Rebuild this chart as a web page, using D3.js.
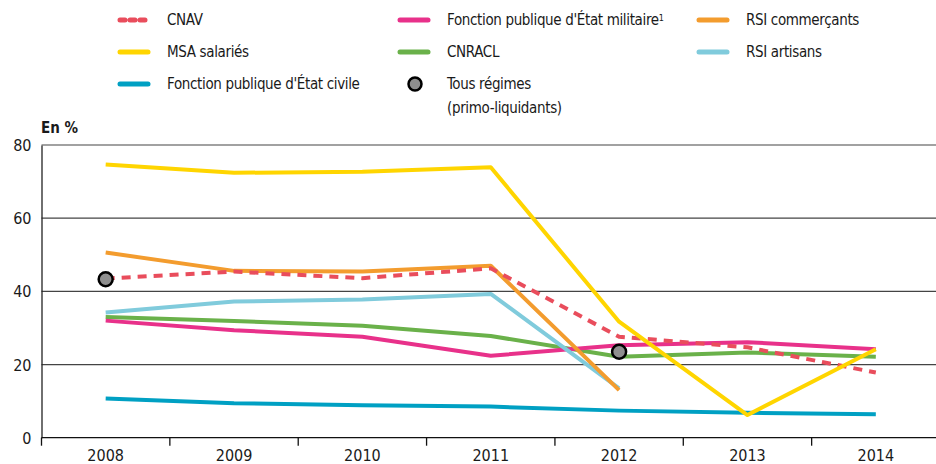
<!DOCTYPE html>
<html>
<head>
<meta charset="utf-8">
<script src="https://cdn.jsdelivr.net/npm/d3@7/dist/d3.min.js"></script>
<style>
    body { margin: 0; background: #fff; }
    svg text { font-family: "Liberation Sans Narrow", "DejaVu Sans Condensed", "Roboto", sans-serif; fill: #1a1a1a; }
</style>
</head>
<body>
<svg id="chart" width="936" height="464"></svg>
<script>
var years = ['2008', '2009', '2010', '2011', '2012', '2013', '2014'];
var yTicks = [0, 20, 40, 60, 80];

var cnav = [43.5, 45.4, 43.6, 46.3, 27.6, 24.7, 17.8];
var msaSalaries = [74.7, 72.4, 72.7, 73.9, 31.7, 6.2, 24.2];
var fpeCivile = [10.7, 9.4, 8.9, 8.5, 7.4, 6.8, 6.4];
var fpeMilitaire = [32.0, 29.4, 27.6, 22.4, 25.3, 26.1, 24.2];
var cnracl = [33.0, 31.9, 30.6, 27.8, 22.1, 23.3, 22.1];
var rsiCommercants = [50.6, 45.6, 45.4, 47.0, 13.0, null, null];
var rsiArtisans = [34.2, 37.2, 37.8, 39.3, 13.5, null, null];
var tousRegimes = [43.3, null, null, null, 23.5, null, null];

// draw order: first drawn ends up under the others
var series = [
    { name: "Fonction publique d'État civile", values: fpeCivile, color: '#00a0c3' },
    { name: 'CNRACL', values: cnracl, color: '#6ab14a' },
    { name: "Fonction publique d'État militaire", values: fpeMilitaire, color: '#e8318a' },
    { name: 'RSI artisans', values: rsiArtisans, color: '#80cbdc' },
    { name: 'RSI commerçants', values: rsiCommercants, color: '#f39c2e' },
    { name: 'CNAV', values: cnav, color: '#e94d5c', dashed: true },
    { name: 'MSA salariés', values: msaSalaries, color: '#ffd500' }
];

var svg = d3.select('#chart');

var x = d3.scaleBand().domain(years).range([41.5, 940]).padding(0);
var y = d3.scaleLinear().domain([0, 80]).range([437.7, 145]);

function cx(year) {
    return x(year) + x.bandwidth() / 2;
}

// grid lines
svg.append('g')
    .selectAll('line')
    .data(yTicks.slice(1))
    .enter()
    .append('line')
    .attr('x1', 41.5)
    .attr('x2', 936)
    .attr('y1', function (d) { return y(d); })
    .attr('y2', function (d) { return y(d); })
    .style('stroke', '#444')
    .style('stroke-width', 1.2);

// y axis
var yAxis = svg.append('g')
    .attr('transform', 'translate(41.5,0)')
    .call(d3.axisLeft(y).tickValues(yTicks).tickSize(0).tickPadding(10));
yAxis.select('.domain').style('stroke', '#222').style('stroke-width', 1.3);
yAxis.selectAll('text')
    .style('font-size', '16px')
    .attr('dy', '0.35em');

// x axis, ticks sit on the band boundaries
var xAxis = svg.append('g')
    .attr('transform', 'translate(0,' + y(0) + ')')
    .call(d3.axisBottom(x).tickSize(0).tickPadding(12));
xAxis.select('.domain').attr('d', 'M41.5,0H936').style('stroke', '#111').style('stroke-width', 1.3);
xAxis.selectAll('text').style('font-size', '16px');

svg.append('g')
    .selectAll('line')
    .data(years.slice(1))
    .enter()
    .append('line')
    .attr('x1', function (d) { return x(d); })
    .attr('x2', function (d) { return x(d); })
    .attr('y1', y(0))
    .attr('y2', y(0) + 8)
    .style('stroke', '#111')
    .style('stroke-width', 1.3);
svg.append('line')
    .attr('x1', 41.5).attr('x2', 41.5)
    .attr('y1', y(0)).attr('y2', y(0) + 8)
    .style('stroke', '#111').style('stroke-width', 1.3);

svg.append('text')
    .attr('x', 41)
    .attr('y', 133)
    .style('font-size', '15px')
    .style('font-weight', 'bold')
    .text('En %');

// lines
var line = d3.line()
    .defined(function (d) { return d !== null; })
    .x(function (d, i) { return cx(years[i]); })
    .y(function (d) { return y(d); });

svg.append('g')
    .selectAll('path')
    .data(series)
    .enter()
    .append('path')
    .attr('d', function (d) { return line(d.values); })
    .style('fill', 'none')
    .style('stroke', function (d) { return d.color; })
    .style('stroke-width', 4)
    .style('stroke-linejoin', 'round')
    .style('stroke-dasharray', function (d) { return d.dashed ? '9,7' : null; });

// Tous régimes dots
var dots = [];
tousRegimes.forEach(function (v, i) {
    if (v !== null) dots.push({ year: years[i], value: v });
});
svg.append('g')
    .selectAll('circle')
    .data(dots)
    .enter()
    .append('circle')
    .attr('cx', function (d) { return cx(d.year); })
    .attr('cy', function (d) { return y(d.value); })
    .attr('r', 7)
    .style('fill', '#8f8f8f')
    .style('stroke', '#000')
    .style('stroke-width', 2.5);

// legend
var legendItems = [
    { label: 'CNAV', color: '#e94d5c', dashed: true, x: 118, y: 20 },
    { label: 'MSA salariés', color: '#ffd500', x: 118, y: 52 },
    { label: "Fonction publique d'État civile", color: '#00a0c3', x: 118, y: 84 },
    { label: "Fonction publique d'État militaire", sup: '1', color: '#e8318a', x: 398, y: 20 },
    { label: 'CNRACL', color: '#6ab14a', x: 398, y: 52 },
    { label: 'Tous régimes', label2: '(primo-liquidants)', dot: true, x: 398, y: 84 },
    { label: 'RSI commerçants', color: '#f39c2e', x: 697, y: 20 },
    { label: 'RSI artisans', color: '#80cbdc', x: 697, y: 52 }
];

var lg = svg.append('g')
    .selectAll('g')
    .data(legendItems)
    .enter()
    .append('g')
    .attr('transform', function (d) { return 'translate(' + d.x + ',' + d.y + ')'; });

lg.filter(function (d) { return !d.dot; })
    .append('line')
    .attr('x1', 2).attr('x2', 30)
    .attr('y1', 0).attr('y2', 0)
    .style('stroke', function (d) { return d.color; })
    .style('stroke-width', 5)
    .style('stroke-linecap', 'round')
    .style('stroke-dasharray', function (d) { return d.dashed ? '5,5' : null; });

lg.filter(function (d) { return d.dot; })
    .append('circle')
    .attr('cx', 17).attr('cy', 0).attr('r', 6.5)
    .style('fill', '#8f8f8f')
    .style('stroke', '#000')
    .style('stroke-width', 2.5);

var lt = lg.append('text')
    .attr('x', 49)
    .attr('y', 0)
    .attr('dy', '0.35em')
    .style('font-size', '15px')
    .style('letter-spacing', '-0.35px');
lt.append('tspan').text(function (d) { return d.label; });
lt.filter(function (d) { return d.sup; })
    .append('tspan')
    .attr('dy', '-0.45em')
    .style('font-size', '9px')
    .text(function (d) { return d.sup; });

lg.filter(function (d) { return d.label2; })
    .append('text')
    .attr('x', 49)
    .attr('y', 24)
    .attr('dy', '0.35em')
    .style('font-size', '15px')
    .style('letter-spacing', '-0.35px')
    .text(function (d) { return d.label2; });
</script>
</body>
</html>
